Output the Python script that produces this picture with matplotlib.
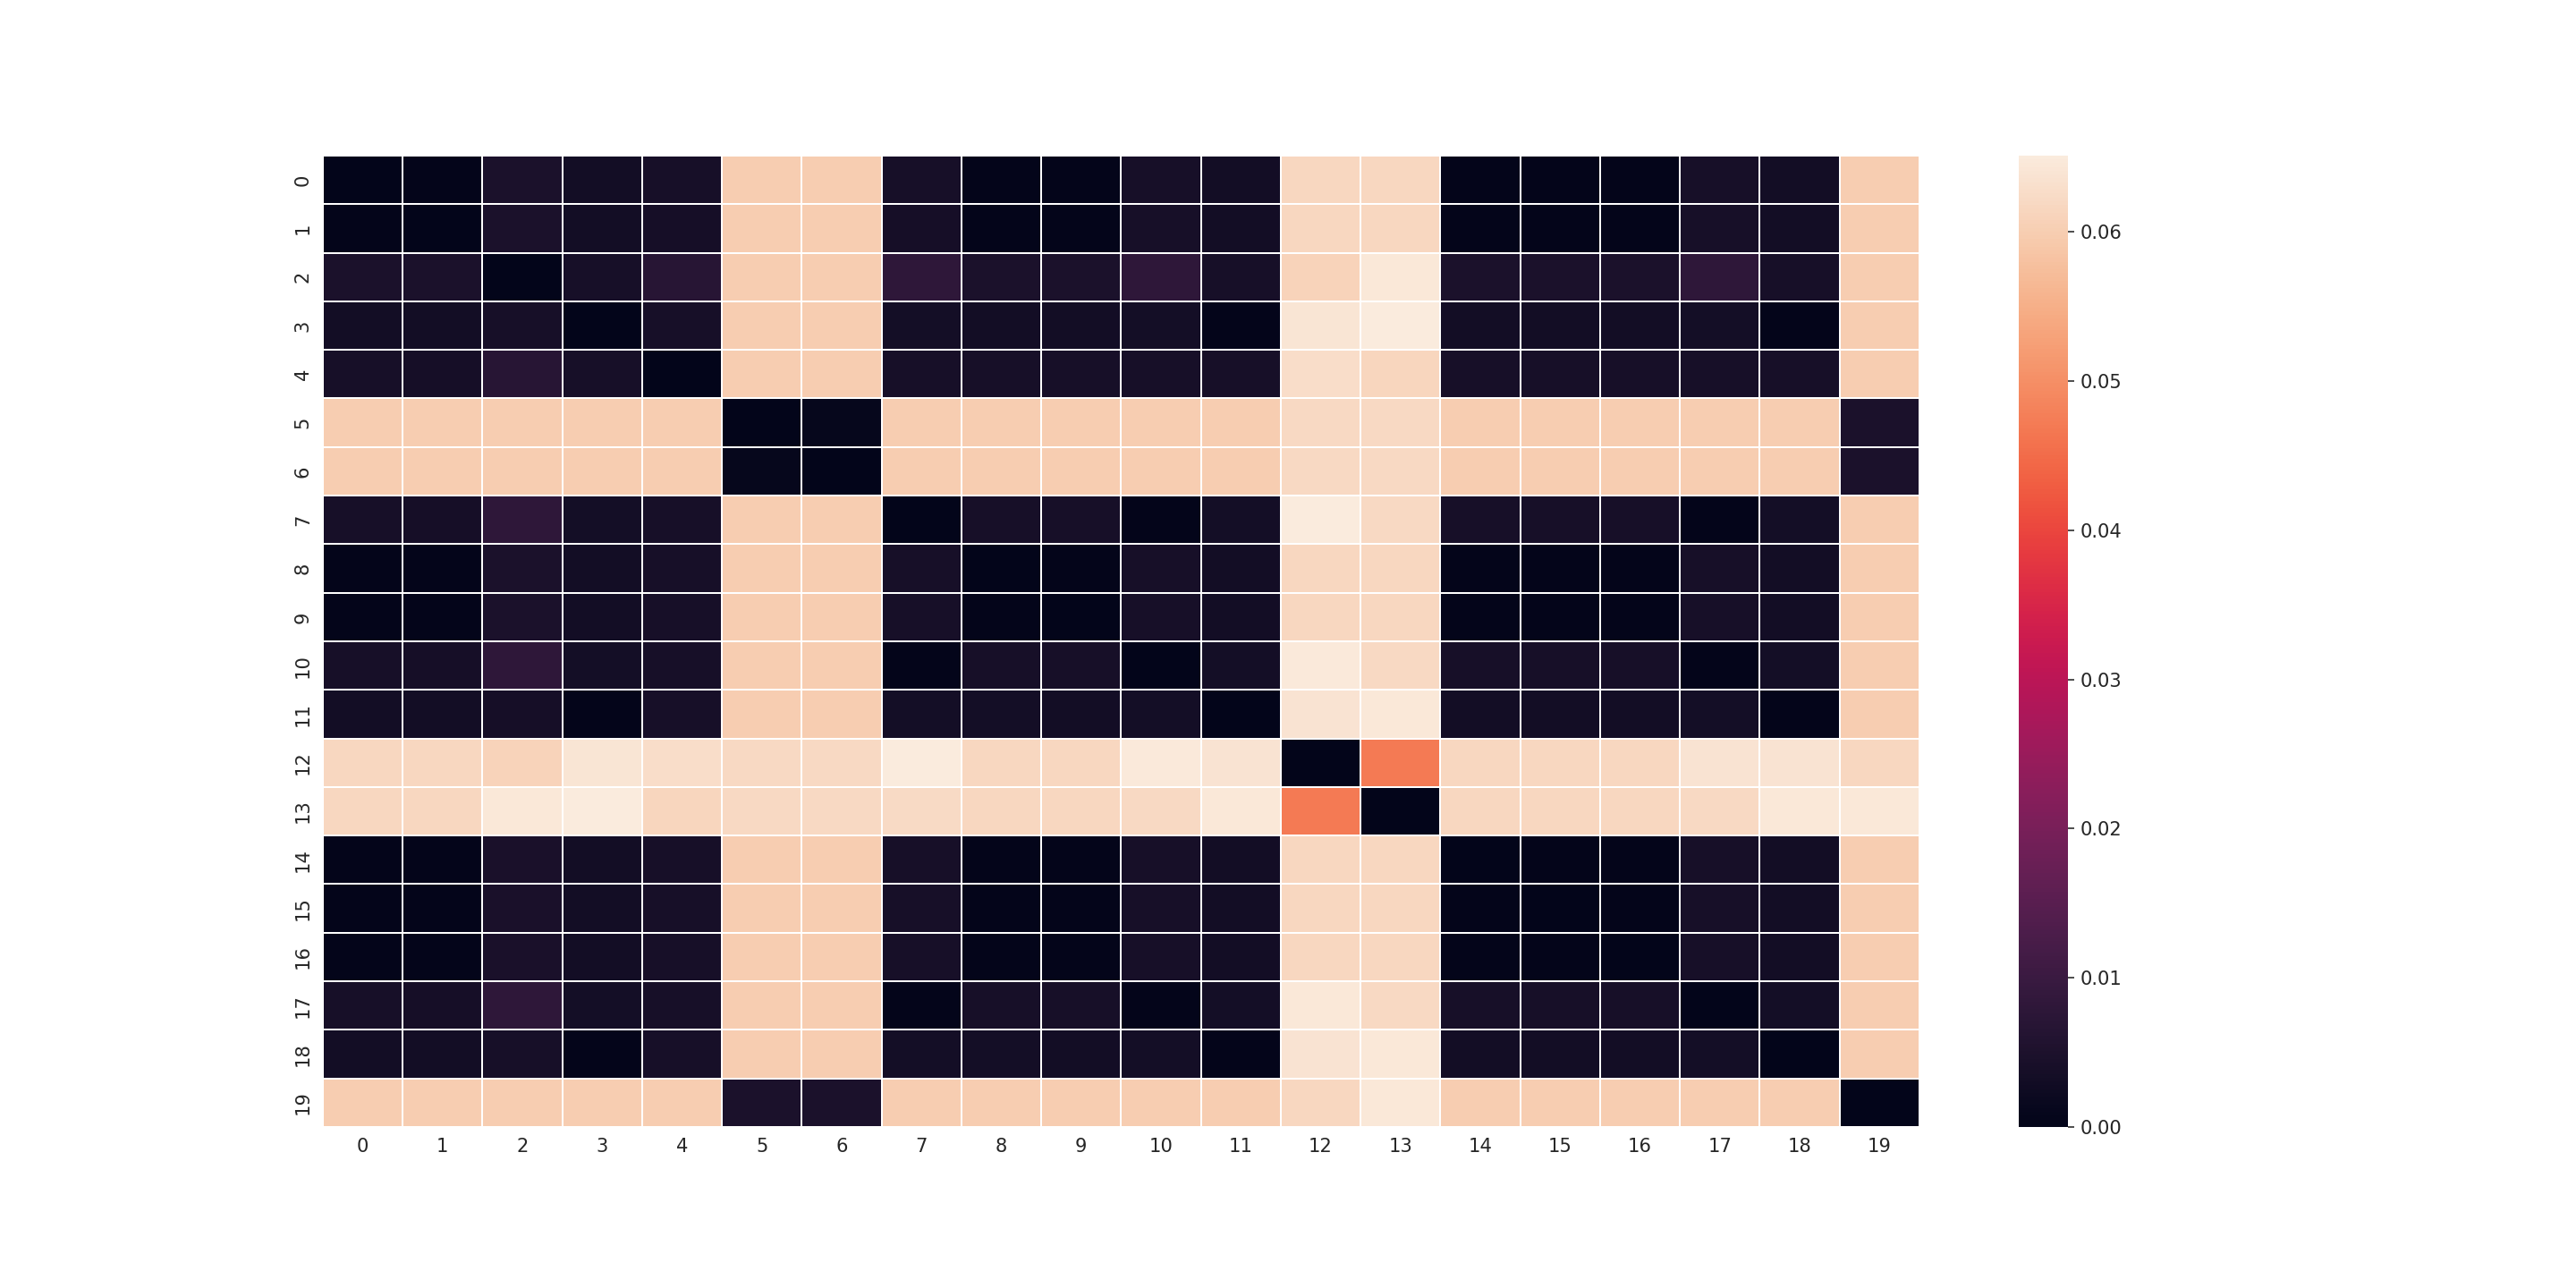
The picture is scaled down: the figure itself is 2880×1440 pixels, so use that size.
import matplotlib
matplotlib.use("Agg")
import matplotlib.pyplot as plt
import seaborn as sns
import numpy as np

labels = [str(i) for i in range(20)]
cbar_ticks = [0.00, 0.01, 0.02, 0.03, 0.04, 0.05, 0.06]

row_00 = [0.0000, 0.0003, 0.0048, 0.0031, 0.0040, 0.0600, 0.0600, 0.0040, 0.0003, 0.0003, 0.0040, 0.0031, 0.0617, 0.0617, 0.0003, 0.0003, 0.0003, 0.0040, 0.0031, 0.0600]
row_01 = [0.0003, 0.0000, 0.0048, 0.0031, 0.0036, 0.0600, 0.0600, 0.0036, 0.0003, 0.0003, 0.0040, 0.0031, 0.0617, 0.0617, 0.0003, 0.0003, 0.0003, 0.0040, 0.0031, 0.0600]
row_02 = [0.0048, 0.0048, 0.0000, 0.0040, 0.0068, 0.0600, 0.0600, 0.0080, 0.0048, 0.0048, 0.0080, 0.0040, 0.0608, 0.0645, 0.0048, 0.0048, 0.0048, 0.0080, 0.0040, 0.0600]
row_03 = [0.0031, 0.0031, 0.0040, 0.0000, 0.0040, 0.0600, 0.0600, 0.0034, 0.0031, 0.0031, 0.0034, 0.0003, 0.0640, 0.0650, 0.0031, 0.0031, 0.0031, 0.0034, 0.0003, 0.0600]
row_04 = [0.0040, 0.0036, 0.0068, 0.0040, 0.0000, 0.0600, 0.0600, 0.0040, 0.0040, 0.0040, 0.0040, 0.0040, 0.0628, 0.0614, 0.0040, 0.0040, 0.0040, 0.0040, 0.0040, 0.0600]
row_05 = [0.0600, 0.0600, 0.0600, 0.0600, 0.0600, 0.0000, 0.0008, 0.0600, 0.0600, 0.0600, 0.0600, 0.0600, 0.0620, 0.0620, 0.0600, 0.0600, 0.0600, 0.0600, 0.0600, 0.0048]
row_06 = [0.0600, 0.0600, 0.0600, 0.0600, 0.0600, 0.0008, 0.0000, 0.0600, 0.0600, 0.0600, 0.0600, 0.0600, 0.0620, 0.0620, 0.0600, 0.0600, 0.0600, 0.0600, 0.0600, 0.0048]
row_07 = [0.0040, 0.0036, 0.0080, 0.0034, 0.0040, 0.0600, 0.0600, 0.0000, 0.0040, 0.0040, 0.0003, 0.0034, 0.0651, 0.0620, 0.0040, 0.0040, 0.0040, 0.0003, 0.0034, 0.0600]
row_08 = [0.0003, 0.0003, 0.0048, 0.0031, 0.0040, 0.0600, 0.0600, 0.0040, 0.0000, 0.0003, 0.0040, 0.0031, 0.0617, 0.0617, 0.0003, 0.0003, 0.0003, 0.0040, 0.0031, 0.0600]
row_09 = [0.0003, 0.0003, 0.0048, 0.0031, 0.0040, 0.0600, 0.0600, 0.0040, 0.0003, 0.0000, 0.0040, 0.0031, 0.0617, 0.0617, 0.0003, 0.0003, 0.0003, 0.0040, 0.0031, 0.0600]
row_10 = [0.0040, 0.0036, 0.0080, 0.0034, 0.0040, 0.0600, 0.0600, 0.0003, 0.0040, 0.0040, 0.0000, 0.0034, 0.0648, 0.0620, 0.0040, 0.0040, 0.0040, 0.0003, 0.0034, 0.0600]
row_11 = [0.0031, 0.0031, 0.0038, 0.0003, 0.0040, 0.0600, 0.0600, 0.0034, 0.0034, 0.0031, 0.0034, 0.0000, 0.0636, 0.0645, 0.0031, 0.0031, 0.0031, 0.0034, 0.0003, 0.0600]
row_12 = [0.0617, 0.0617, 0.0608, 0.0640, 0.0628, 0.0620, 0.0620, 0.0651, 0.0617, 0.0617, 0.0648, 0.0636, 0.0000, 0.0470, 0.0617, 0.0617, 0.0617, 0.0636, 0.0636, 0.0617]
row_13 = [0.0617, 0.0617, 0.0645, 0.0650, 0.0614, 0.0620, 0.0620, 0.0622, 0.0617, 0.0617, 0.0620, 0.0645, 0.0470, 0.0000, 0.0617, 0.0617, 0.0617, 0.0620, 0.0645, 0.0645]
row_14 = [0.0003, 0.0003, 0.0045, 0.0031, 0.0040, 0.0600, 0.0600, 0.0040, 0.0003, 0.0003, 0.0040, 0.0031, 0.0617, 0.0617, 0.0000, 0.0003, 0.0003, 0.0040, 0.0031, 0.0600]
row_15 = [0.0003, 0.0003, 0.0045, 0.0031, 0.0040, 0.0600, 0.0600, 0.0040, 0.0003, 0.0003, 0.0040, 0.0031, 0.0617, 0.0617, 0.0003, 0.0000, 0.0003, 0.0040, 0.0031, 0.0600]
row_16 = [0.0003, 0.0003, 0.0045, 0.0031, 0.0040, 0.0600, 0.0600, 0.0040, 0.0003, 0.0003, 0.0040, 0.0031, 0.0617, 0.0617, 0.0003, 0.0003, 0.0000, 0.0040, 0.0031, 0.0600]
row_17 = [0.0040, 0.0038, 0.0080, 0.0034, 0.0040, 0.0600, 0.0600, 0.0003, 0.0040, 0.0040, 0.0003, 0.0034, 0.0645, 0.0620, 0.0040, 0.0040, 0.0040, 0.0000, 0.0034, 0.0600]
row_18 = [0.0031, 0.0031, 0.0040, 0.0003, 0.0040, 0.0600, 0.0600, 0.0034, 0.0034, 0.0031, 0.0034, 0.0003, 0.0636, 0.0645, 0.0031, 0.0031, 0.0031, 0.0034, 0.0000, 0.0600]
row_19 = [0.0600, 0.0600, 0.0600, 0.0600, 0.0600, 0.0048, 0.0048, 0.0600, 0.0600, 0.0600, 0.0600, 0.0600, 0.0617, 0.0645, 0.0600, 0.0600, 0.0600, 0.0600, 0.0600, 0.0000]

rows = [row_00, row_01, row_02, row_03, row_04, row_05, row_06, row_07, row_08, row_09,
        row_10, row_11, row_12, row_13, row_14, row_15, row_16, row_17, row_18, row_19]
data = np.array(rows)

sns.set_style("white")
plt.rcParams["font.family"] = ["DejaVu Sans"]
plt.rcParams["font.size"] = 10.5

FS = 10.5
TXT = "#262626"

fig = plt.figure(figsize=(20, 10), dpi=144)
ax = fig.add_axes([0.1253, 0.1250, 0.6198, 0.7542])
cax = fig.add_axes([0.7837, 0.1250, 0.0191, 0.7542])

sns.heatmap(data, ax=ax, cbar_ax=cax, cmap="rocket", linewidths=0.8, linecolor="white",
            xticklabels=labels, yticklabels=labels)

ax.tick_params(axis="both", length=0, pad=6, colors=TXT)
ax.set_yticklabels(labels, rotation=90, va="center", fontsize=FS, color=TXT)
ax.set_xticklabels(labels, rotation=0, fontsize=FS, color=TXT)

cax.set_yticks(cbar_ticks)
cax.set_yticklabels([f"{t:.2f}" for t in cbar_ticks], fontsize=FS, color=TXT)
cax.tick_params(axis="y", right=True, length=3.5, width=0.8, colors=TXT)
for s in cax.spines.values():
    s.set_visible(False)

fig.savefig("out.png", dpi=144)
